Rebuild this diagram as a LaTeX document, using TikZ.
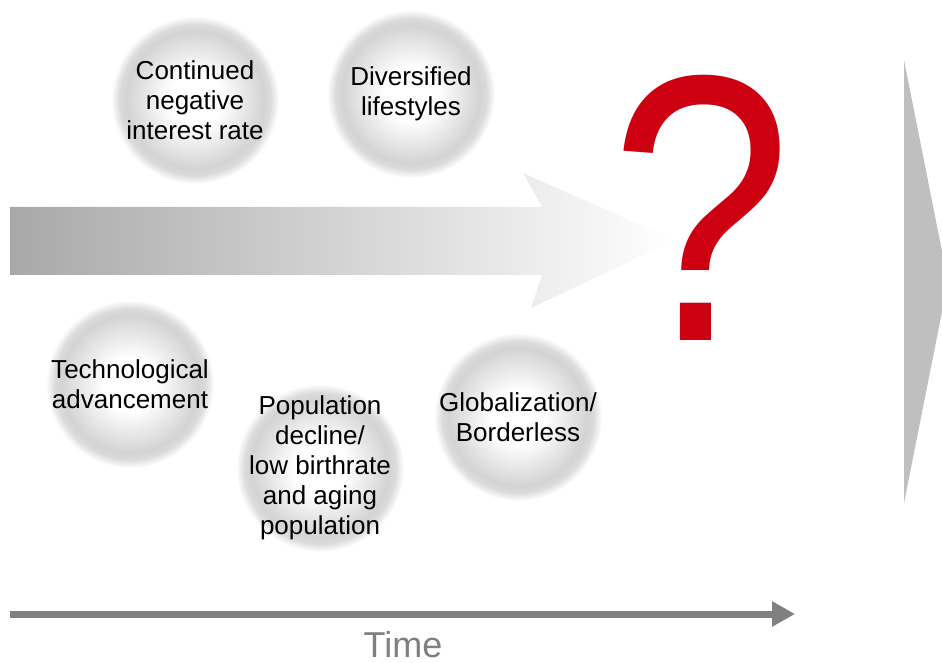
\documentclass[tikz,border=0pt]{standalone}
\usepackage{fontspec}
\setmainfont{Liberation Sans}
\usepackage{xcolor}
\usepackage{tikz}
\usetikzlibrary{positioning, shapes, calc, arrows.meta, backgrounds}

\definecolor{qred}{RGB}{204,0,17}
\definecolor{wedgegray}{RGB}{191,191,191}
\definecolor{timegray}{RGB}{128,128,128}

% soft grey ball: white middle, grey rim, fading out at the edge
\pgfdeclareradialshading{ball}{\pgfpoint{0bp}{0bp}}{%
  color(0bp)=(white); color(8bp)=(white); color(20.5bp)=(black!17);
  color(22.5bp)=(black!14); color(25bp)=(white); color(50bp)=(white)}

\tikzset{
  ball/.style={shading=ball},
  issue/.style={inner sep=0pt, align=center,
    font=\fontsize{13}{15}\selectfont},
}

\begin{document}
\begin{tikzpicture}[x=0.5pt, y=-0.5pt]
        \useasboundingbox (0,0) rectangle (942,663);
        \clip (0,0) rectangle (942,663);

        % big shaded arrow
        \path[left color=black!34, right color=white]
          (10,207) -- (542,207) -- (523,173) -- (675,240)
          -- (531,308) -- (542,275) -- (10,275) -- cycle;

        % wedge at the right edge
        \fill[wedgegray] (904,60) -- (948,281.5) -- (904,503) -- cycle;

        % factors
        \foreach \name/\x/\y/\txt in {
            rate/195/100/{Continued\\negative\\interest rate},
            life/411/94/{Diversified\\lifestyles},
            tech/130/384/{Technological\\advancement},
            popu/320/468/{Population\\decline/\\low birthrate\\and aging\\population},
            glob/518/417/{Globalization/\\Borderless}} {
          \shade[ball] (\x,\y) circle[radius=84];
          \node[issue] (\name) at (\x,\y) {\txt};
        }

        % question mark
        \node[qred, anchor=base, inner sep=0pt, xscale=0.86,
          font=\fontsize{190}{190}\selectfont] (what) at (701,340) {?};

        % time axis
        \coordinate (t0) at (10,614);
        \coordinate (t1) at (795,614);
        \draw[timegray, line width=3.5pt,
          -{Triangle[length=11.5pt, width=12pt]}] (t0) -- (t1);
        \node[timegray, anchor=base, inner sep=0pt,
          font=\fontsize{18}{18}\selectfont] (time) at (403,657) {Time};
      \end{tikzpicture}
\end{document}
